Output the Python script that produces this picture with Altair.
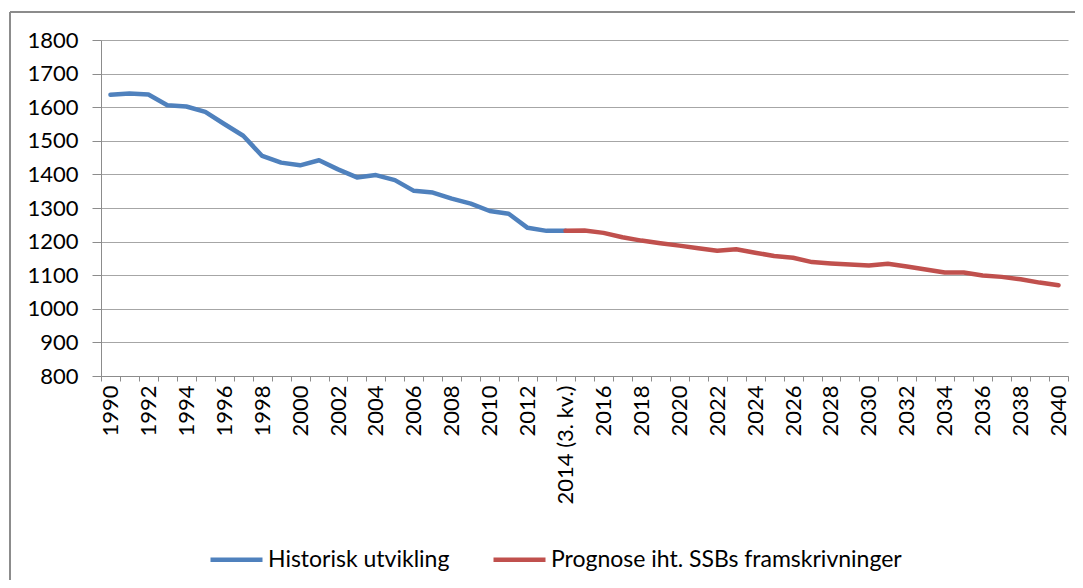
import altair as alt
import pandas as pd

# ---- data ----
hist_years = list(range(1990, 2015))
hist_values = [1637, 1641, 1638, 1606, 1602, 1586, 1550, 1515, 1455, 1435,
               1427, 1442, 1415, 1391, 1398, 1383, 1351, 1346, 1328, 1313,
               1291, 1283, 1241, 1232, 1232]

prog_years = list(range(2014, 2041))
prog_values = [1232, 1233, 1226, 1213, 1203, 1195, 1188, 1180, 1173, 1177,
               1167, 1157, 1152, 1139, 1135, 1132, 1129, 1134, 1126, 1117,
               1108, 1108, 1099, 1095, 1088, 1078, 1070]

series_names = ["Historisk utvikling", "Prognose iht. SSBs framskrivninger"]
series_colors = ["#4F81BD", "#C0504D"]
y_ticks = list(range(800, 1900, 100))


def cat(y):
    return "2014 (3. kv.)" if y == 2014 else str(y)


categories = [cat(y) for y in range(1990, 2041)]

rows = []
for y, v in zip(hist_years, hist_values):
    rows.append({"year": cat(y), "value": v, "series": series_names[0]})
for y, v in zip(prog_years, prog_values):
    rows.append({"year": cat(y), "value": v, "series": series_names[1]})
df = pd.DataFrame(rows)

FONT = "Lato"
GRAY = "#8c8c8c"

lines = alt.Chart(df).mark_line(
    strokeWidth=4.5, strokeCap="round", strokeJoin="round"
).encode(
    x=alt.X(
        "year:N",
        sort=categories,
        bandPosition=0.5,
        scale=alt.Scale(type="band", domain=categories, paddingInner=0, paddingOuter=0),
        axis=alt.Axis(
            title=None,
            labelAngle=270,
            labelAlign="right",
            labelBaseline="middle",
            labelExpr="parseInt(substring(datum.label, 0, 4)) % 2 == 0 ? datum.label : ''",
            labelOverlap=False,
            labelLimit=0,
            labelFont=FONT,
            labelFontSize=22,
            labelColor="#000000",
            labelPadding=4,
            tickBand="extent",
            tickSize=5,
            tickColor=GRAY,
            domainColor=GRAY,
            grid=False,
        ),
    ),
    y=alt.Y(
        "value:Q",
        scale=alt.Scale(domain=[800, 1800], nice=False, zero=False),
        axis=alt.Axis(
            title=None,
            values=y_ticks,
            format="d",
            labelFont=FONT,
            labelFontSize=22,
            labelColor="#000000",
            labelPadding=14,
            tickSize=9,
            tickColor=GRAY,
            domainColor=GRAY,
            gridColor="#a6a6a6",
            gridWidth=1.2,
        ),
    ),
    color=alt.Color(
        "series:N",
        scale=alt.Scale(domain=series_names, range=series_colors),
        legend=alt.Legend(
            title=None,
            orient="none",
            legendX=107,
            legendY=491,
            direction="horizontal",
            symbolType="stroke",
            symbolSize=2704,
            symbolStrokeWidth=4.5,
            labelFont=FONT,
            labelFontSize=23,
            labelColor="#000000",
            labelLimit=0,
            labelOffset=3,
            columnPadding=34,
        ),
    ),
    detail="series:N",
)

frame_df = pd.DataFrame({"k": [0]})
frame_top = alt.Chart(frame_df).mark_rule(color=GRAY, strokeWidth=2).encode(
    x=alt.value(-91), x2=alt.value(974), y=alt.value(-28)
)
frame_left = alt.Chart(frame_df).mark_rule(color=GRAY, strokeWidth=2).encode(
    x=alt.value(-91), y=alt.value(-28), y2=alt.value(540)
)

chart = alt.layer(lines, frame_top, frame_left).properties(
    width=967,
    height=336,
    autosize=alt.AutoSizeParams(type="none"),
    padding={"left": 93, "top": 32, "right": 7, "bottom": 204},
).configure_view(strokeWidth=0)

chart.save("out.html", embed_options={"renderer": "svg", "actions": False})
